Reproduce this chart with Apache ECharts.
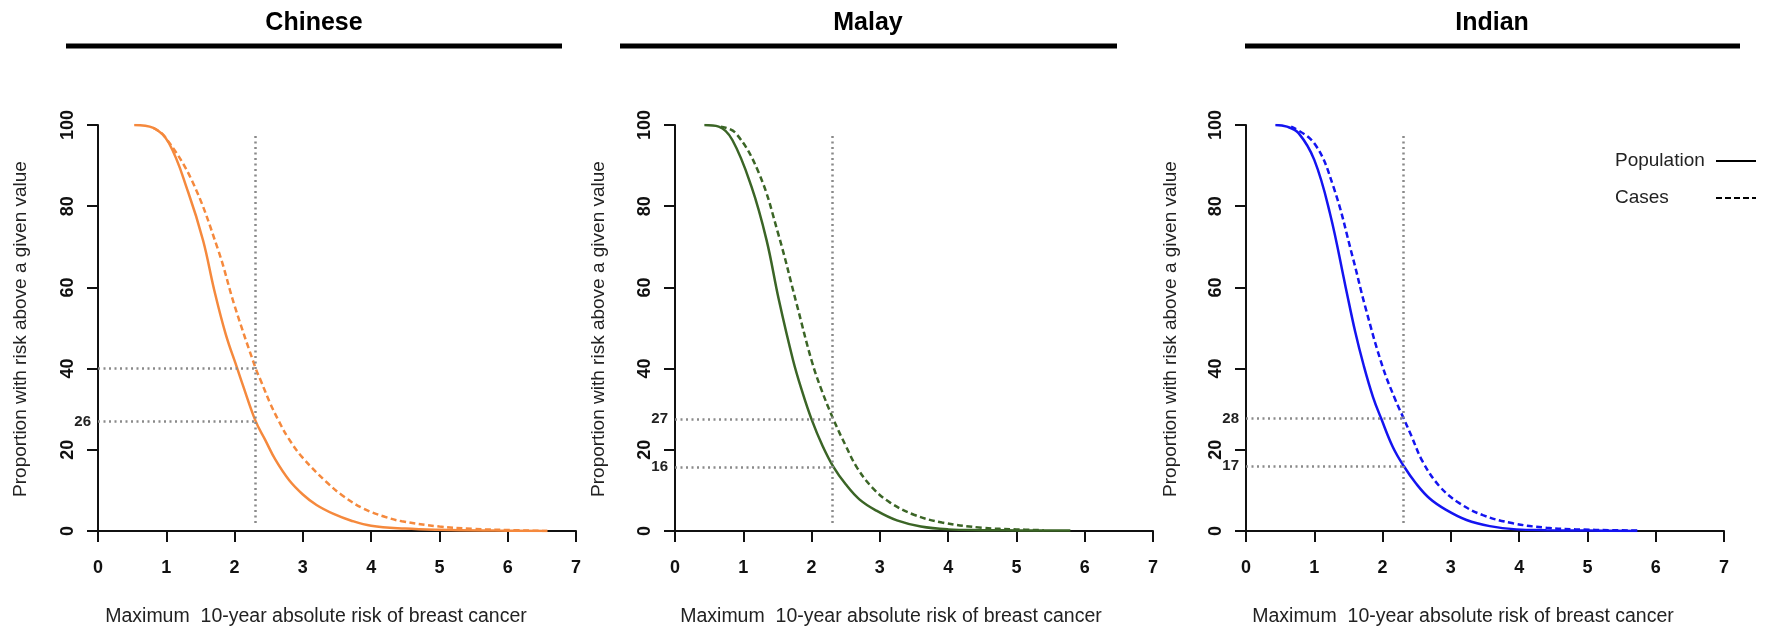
<!DOCTYPE html>
<html>
<head>
<meta charset="utf-8">
<script src="https://cdn.jsdelivr.net/npm/echarts@6/dist/echarts.min.js"></script>
<style>
  body { margin: 0; background: #fff; }
  #main { width: 1765px; height: 628px; }
</style>
</head>
<body>
<div id="main"></div>
<script>
// panel titles
var panelNames = ['Chinese', 'Malay', 'Indian'];
var xTicks = [0, 7, 1];     // min, max, interval
var yTicks = [0, 100, 20];

// [risk, proportion]
var chinesePop = [[0.53,100],[0.81,99.3],[1.04,95.5],[1.32,83.5],[1.54,71.5],[1.7,59.5],[1.87,48.5],[2.04,40],[2.11,36.5],[2.31,27],[2.45,22.4],[2.6,17.5],[2.8,12.5],[3.0,9],[3.2,6.4],[3.45,4.2],[3.7,2.6],[4.0,1.3],[4.5,0.6],[5.0,0.3],[5.8,0.1],[6.58,0]];
var chineseCases = [[0.81,99.3],[0.98,97.1],[1.37,86.5],[1.76,69.2],[2.0,55.5],[2.31,40],[2.38,37.2],[2.52,31.5],[2.65,27],[2.79,22.8],[3.0,18],[3.35,12],[3.6,8.5],[3.89,5.5],[4.2,3.5],[4.45,2.4],[5.0,1.1],[5.5,0.5],[5.85,0.3],[6.58,0]];
var malayPop = [[0.43,100],[0.64,99.6],[0.84,96.3],[1.12,84.8],[1.34,71.7],[1.52,57],[1.73,42],[1.86,34.5],[2.0,27.5],[2.16,21],[2.32,15.8],[2.5,11.5],[2.7,7.8],[2.95,5],[3.25,2.6],[3.6,1.1],[4.0,0.4],[4.5,0.2],[5.0,0.15],[5.79,0.1]];
var malayCases = [[0.67,99.6],[0.89,98],[1.23,88.1],[1.51,73.3],[1.78,56],[2.0,42],[2.14,35],[2.32,27.5],[2.5,21],[2.67,15.5],[2.9,10.5],[3.15,7],[3.5,4],[3.91,2.1],[4.5,0.8],[5.0,0.4],[5.4,0.2]];
var indianPop = [[0.43,100],[0.6,99.6],[0.77,98],[1.0,91.4],[1.23,78.2],[1.46,60],[1.6,49],[1.72,41],[1.86,33],[1.98,27.7],[2.15,20.7],[2.31,16],[2.49,11.7],[2.69,8],[2.93,5.2],[3.23,2.7],[3.57,1.2],[3.96,0.4],[4.4,0.2],[5.0,0.1],[5.73,0]];
var indianCases = [[0.66,99.6],[1.0,95.5],[1.28,84.8],[1.56,67.6],[1.75,55],[2.0,40.5],[2.19,32.2],[2.31,27.7],[2.42,23.5],[2.59,17],[2.84,10.9],[3.13,6.8],[3.47,3.9],[3.91,1.9],[4.4,0.8],[4.83,0.4],[5.73,0.1]];

// threshold line and the levels where the curves cross it
var threshold = 2.31;
var thresholdSpan = [2, 98];
var chineseRef = [40, 27];
var chineseRefLabels = ['', '26'];
var malayRef = [27.5, 15.8];
var malayRefLabels = ['27', '16'];
var indianRef = [27.7, 16];
var indianRefLabels = ['28', '17'];

var legendNames = ['Population', 'Cases'];
var xName = 'Maximum  10-year absolute risk of breast cancer';
var yName = 'Proportion with risk above a given value';

var colors = ['#f5893d', '#3b6526', '#1414f0'];
var gridLeft = [98, 675, 1246];
var gridWidth = 478;
var titleX = [314, 868, 1492];
var barX = [[66, 562], [620, 1117], [1245, 1740]];
var xNameX = [316, 891, 1463];
var yNameX = [21, 599, 1171];

var pops = [chinesePop, malayPop, indianPop];
var cases = [chineseCases, malayCases, indianCases];
var refs = [chineseRef, malayRef, indianRef];
var refLabels = [chineseRefLabels, malayRefLabels, indianRefLabels];

var chart = echarts.init(document.getElementById('main'));

var grids = [], xAxes = [], yAxes = [], series = [], graphics = [];
var font = '"Liberation Sans", Arial, sans-serif';

for (var i = 0; i < 3; i++) {
    grids.push({left: gridLeft[i], top: 125, width: gridWidth, height: 406});
    xAxes.push({
        type: 'value', gridIndex: i,
        min: xTicks[0], max: xTicks[1], interval: xTicks[2],
        axisLine: {show: true, onZero: false, lineStyle: {color: '#111', width: 2}},
        axisTick: {show: true, length: 11, lineStyle: {color: '#111', width: 2}},
        axisLabel: {margin: 28, fontSize: 18, fontWeight: 'bold', color: '#111', fontFamily: font,
                    showMinLabel: true, showMaxLabel: true},
        splitLine: {show: false}
    });
    yAxes.push({
        type: 'value', gridIndex: i,
        min: yTicks[0], max: yTicks[1], interval: yTicks[2],
        axisLine: {show: true, onZero: false, lineStyle: {color: '#111', width: 2}},
        axisTick: {show: true, length: 11, lineStyle: {color: '#111', width: 2}},
        axisLabel: {rotate: 90, margin: 21, fontSize: 18, fontWeight: 'bold', color: '#111', fontFamily: font,
                    showMinLabel: true, showMaxLabel: true},
        splitLine: {show: false}
    });

    var mlData = [];
    for (var k = 0; k < refs[i].length; k++) {
        var lab = refLabels[i][k];
        mlData.push([
            {coord: [xTicks[0], refs[i][k]],
             label: {show: lab !== '', formatter: lab, position: 'start', distance: 7,
                     fontSize: 15, fontWeight: 'bold', color: '#222', fontFamily: font}},
            {coord: [threshold, refs[i][k]]}
        ]);
    }
    mlData.push([
        {coord: [threshold, thresholdSpan[0]], label: {show: false}},
        {coord: [threshold, thresholdSpan[1]]}
    ]);

    series.push({
        name: legendNames[0], type: 'line', xAxisIndex: i, yAxisIndex: i,
        data: pops[i], showSymbol: false, smooth: 0.4,
        lineStyle: {color: colors[i], width: 2.5, type: 'solid'},
        z: 3,
        markLine: {
            silent: true, symbol: 'none', animation: false,
            lineStyle: {color: '#8a8a8a', width: 2.5, type: [2, 3.5]},
            data: mlData
        }
    });
    series.push({
        name: legendNames[1], type: 'line', xAxisIndex: i, yAxisIndex: i,
        data: cases[i], showSymbol: false, smooth: 0.4,
        lineStyle: {color: colors[i], width: 2.5, type: [6, 3.5]},
        z: 3
    });

    // panel header: title and thick rule
    graphics.push({type: 'text', x: titleX[i], y: 23,
        style: {text: panelNames[i], font: 'bold 25px ' + font, fill: '#000', align: 'center', verticalAlign: 'middle'}});
    graphics.push({type: 'line', shape: {x1: barX[i][0], y1: 46, x2: barX[i][1], y2: 46},
        style: {stroke: '#000', lineWidth: 5}});
    // axis captions
    graphics.push({type: 'text', x: xNameX[i], y: 617,
        style: {text: xName, font: '19.5px ' + font, fill: '#222', align: 'center', verticalAlign: 'middle'}});
    graphics.push({type: 'text', x: yNameX[i], y: 329, rotation: Math.PI / 2,
        style: {text: yName, font: '19px ' + font, fill: '#222', align: 'center', verticalAlign: 'middle'}});
}

// legend (black line keys)
graphics.push({type: 'text', x: 1615, y: 161,
    style: {text: legendNames[0], font: '19px ' + font, fill: '#222', align: 'left', verticalAlign: 'middle'}});
graphics.push({type: 'text', x: 1615, y: 198,
    style: {text: legendNames[1], font: '19px ' + font, fill: '#222', align: 'left', verticalAlign: 'middle'}});
graphics.push({type: 'line', shape: {x1: 1716, y1: 161, x2: 1756, y2: 161},
    style: {stroke: '#000', lineWidth: 2}});
graphics.push({type: 'line', shape: {x1: 1716, y1: 198, x2: 1756, y2: 198},
    style: {stroke: '#000', lineWidth: 2, lineDash: [6, 3]}});

var option = {
    backgroundColor: '#fff',
    animation: false,
    grid: grids,
    xAxis: xAxes,
    yAxis: yAxes,
    series: series,
    graphic: graphics
};

chart.setOption(option);
</script>
</body>
</html>
